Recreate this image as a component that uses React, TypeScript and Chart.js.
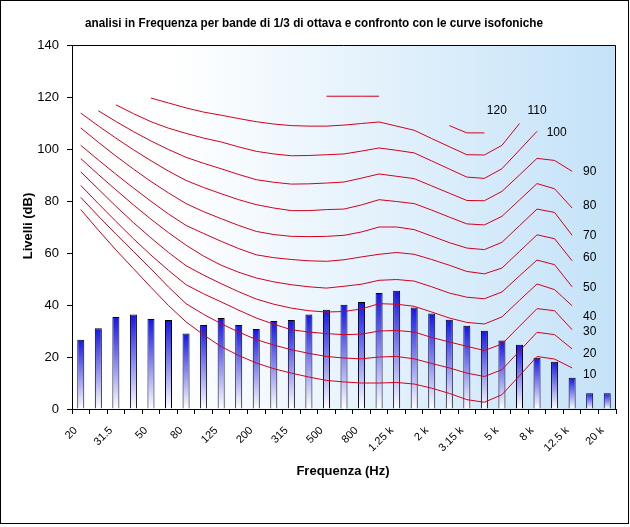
import React, { useEffect, useRef } from 'react';
import { Chart, registerables } from 'chart.js';

Chart.register(...registerables);

// Third-octave band centre frequencies (categories)
const freqs = ['20', '25', '31.5', '40', '50', '63', '80', '100', '125', '160', '200', '250', '315', '400', '500', '630', '800', '1 k', '1.25 k', '1.6 k', '2 k', '2.5 k', '3.15 k', '4 k', '5 k', '6.3 k', '8 k', '10 k', '12.5 k', '16 k', '20 k'];

// Measured levels (dB) per band
const levels = [26.6, 31.1, 35.4, 36.3, 34.6, 34.2, 29.0, 32.3, 35.0, 32.3, 30.8, 33.8, 34.2, 36.3, 38.2, 40.1, 41.2, 44.6, 45.5, 39.0, 36.7, 34.3, 32.0, 30.1, 26.3, 24.7, 19.7, 18.2, 12.0, 6.1, 6.1];

// Equal-loudness (isophonic) curves, dB per band
const curve10 = [76.7, 68.8, 61.2, 54.0, 46.8, 39.8, 33.5, 28.5, 24.0, 20.6, 17.7, 15.5, 13.8, 12.3, 11.0, 10.4, 10.0, 10.0, 10.2, 9.6, 8.0, 6.0, 3.6, 2.6, 5.5, 12.8, 20.2, 19.2, 15.8, null, null];
const curve20 = [81.4, 74.2, 67.3, 60.6, 53.9, 46.9, 40.5, 36.4, 32.8, 29.6, 26.7, 24.6, 22.8, 21.4, 20.2, 19.6, 19.3, 20.0, 20.2, 19.3, 17.5, 15.8, 13.8, 12.5, 15.1, 22.3, 29.5, 28.6, 23.1, null, null];
const curve30 = [86.0, 79.0, 72.2, 65.5, 59.2, 53.3, 47.8, 44.3, 41.2, 38.0, 35.0, 32.6, 30.5, 29.6, 29.0, 28.6, 28.8, 30.0, 30.2, 29.6, 27.5, 25.8, 24.1, 22.5, 25.0, 31.8, 38.6, 37.8, 30.5, null, null];
const curve40 = [91.2, 84.6, 78.0, 71.7, 65.8, 60.2, 55.1, 51.5, 48.2, 45.1, 42.3, 40.3, 38.8, 37.8, 37.3, 37.5, 38.5, 40.5, 40.3, 39.5, 37.3, 35.0, 33.3, 32.7, 35.4, 41.8, 48.1, 45.9, 39.7, null, null];
const curve50 = [96.3, 90.2, 84.3, 78.5, 73.0, 67.8, 63.0, 58.8, 55.3, 52.6, 50.4, 48.9, 47.8, 47.0, 46.5, 47.2, 48.0, 49.5, 49.8, 49.2, 47.0, 44.6, 43.0, 42.4, 45.0, 51.2, 57.3, 55.5, 47.0, null, null];
const curve60 = [101.4, 95.8, 90.3, 85.0, 79.9, 75.0, 70.6, 67.5, 64.5, 61.7, 59.3, 58.2, 57.5, 57.0, 56.8, 57.4, 58.5, 59.5, 60.2, 59.5, 57.5, 55.3, 52.9, 52.0, 54.2, 60.6, 67.0, 65.5, 57.0, null, null];
const curve70 = [108.1, 102.6, 97.3, 92.3, 87.5, 83.1, 79.0, 75.9, 73.2, 70.6, 68.3, 67.1, 66.4, 66.3, 66.4, 66.8, 68.1, 70.0, 70.0, 69.0, 66.5, 64.0, 61.9, 61.3, 64.1, 70.5, 76.9, 75.6, 66.8, null, null];
const curve80 = [113.8, 108.9, 104.2, 99.7, 95.5, 91.5, 87.9, 85.2, 82.8, 80.5, 78.6, 77.3, 76.3, 76.3, 76.7, 76.9, 78.5, 80.5, 79.8, 79.0, 76.5, 73.8, 71.2, 70.8, 74.1, 80.4, 86.7, 84.7, 77.3, null, null];
const curve90 = [null, 114.7, 110.6, 106.7, 103.1, 99.8, 96.8, 94.5, 92.4, 90.2, 88.2, 87.2, 86.5, 86.6, 86.9, 87.3, 88.8, 90.4, 89.5, 88.6, 85.8, 83.0, 80.2, 80.1, 83.7, 90.0, 96.4, 95.6, 91.4, null, null];
const curve100 = [null, null, 117.0, 113.6, 110.5, 108.0, 106.0, 104.2, 102.7, 100.8, 99.1, 98.1, 97.4, 97.5, 97.8, 98.1, 99.2, 100.4, 99.5, 98.5, 95.4, 92.3, 89.2, 88.7, 92.4, 99.6, 106.8, null, null, null, null];
const curve110 = [null, null, null, null, 119.6, 117.7, 115.8, 114.2, 113.0, 111.7, 110.5, 109.6, 109.0, 108.8, 108.8, 109.2, 109.8, 110.4, 108.8, 107.2, 104.0, 100.9, 97.8, 97.7, 101.4, 109.8, null, null, null, null, null];
const curve120 = [null, null, null, null, null, null, null, null, null, null, null, null, null, null, 120.3, 120.3, 120.3, 120.3, null, null, null, 109.0, 106.2, 106.2, null, null, null, null, null, null, null];

const curves = [curve10, curve20, curve30, curve40, curve50, curve60, curve70, curve80, curve90, curve100, curve110, curve120];
const curveNames = ['10', '20', '30', '40', '50', '60', '70', '80', '90', '100', '110', '120'];
// label anchors (category index, dB)
const labelX = [29, 29, 29, 29, 29, 29, 29, 29, 29, 27.12, 26.0, 23.71];
const labelY = [13.2, 21.3, 29.8, 35.6, 46.5, 58.1, 66.8, 78.2, 91.4, 106.4, 114.6, 114.6];

const yTicks = [0, 20, 40, 60, 80, 100, 120, 140];

const FONT = '"Liberation Sans", Arial, sans-serif';
const CURVE_COLOR = '#d4001e';

const decorPlugin = {
  id: 'decor',
  beforeDraw(chart: any) {
    const { ctx, chartArea: a, width, height } = chart;
    ctx.save();
    ctx.fillStyle = '#ffffff';
    ctx.fillRect(0, 0, width, height);
    const g = ctx.createLinearGradient(a.left, 0, a.right, 0);
    g.addColorStop(0, '#ffffff');
    g.addColorStop(0.18, '#ffffff');
    g.addColorStop(1, '#c4e2f8');
    ctx.fillStyle = g;
    ctx.fillRect(a.left, a.top, a.right - a.left, a.bottom - a.top);
    ctx.restore();
  },
  afterDraw(chart: any) {
    const { ctx, chartArea: a, scales } = chart;
    ctx.save();
    // plot frame
    ctx.strokeStyle = '#000';
    ctx.lineWidth = 1;
    ctx.beginPath();
    ctx.moveTo(a.left, a.top + 0.5);
    ctx.lineTo(a.right - 0.5, a.top + 0.5);
    ctx.lineTo(a.right - 0.5, a.bottom);
    ctx.stroke();
    // outer frame
    ctx.strokeRect(0.5, 0.5, 628, 523);

    // curve labels
    ctx.fillStyle = '#000';
    ctx.font = '12px ' + FONT;
    ctx.textAlign = 'center';
    ctx.textBaseline = 'middle';
    for (let i = 0; i < curveNames.length; i++) {
      const x = scales.x.getPixelForValue(labelX[i]);
      const y = scales.y.getPixelForValue(labelY[i]);
      ctx.fillText(curveNames[i], x, y);
    }

    // main title (condensed bold)
    const title = 'analisi in Frequenza per bande di 1/3 di ottava e confronto con le curve isofoniche';
    ctx.font = 'bold 12px ' + FONT;
    const w = ctx.measureText(title).width;
    const target = 458;
    ctx.save();
    ctx.translate(314, 24);
    ctx.scale(target / w, 1);
    ctx.fillText(title, 0, 0);
    ctx.restore();

    // axis titles
    ctx.font = 'bold 13px ' + FONT;
    ctx.fillText('Frequenza (Hz)', 343, 471);
    ctx.save();
    ctx.translate(28, 226);
    ctx.rotate(-Math.PI / 2);
    ctx.fillText('Livelli (dB)', 0, 0);
    ctx.restore();
    ctx.restore();
  },
};

export default function App() {
  const ref = useRef<HTMLCanvasElement>(null);
  useEffect(() => {
    const canvas = ref.current;
    if (!canvas) return;
    const barDataset: any = {
      type: 'bar',
      data: levels,
      order: 2,
      barPercentage: 0.4,
      categoryPercentage: 1,
      borderColor: '#000',
      borderWidth: 1,
      backgroundColor: (c: any) => {
        const chart = c.chart;
        const a = chart.chartArea;
        if (!a || c.parsed == null) return '#3030f0';
        const top = chart.scales.y.getPixelForValue(c.parsed.y);
        const g = chart.ctx.createLinearGradient(0, top, 0, a.bottom);
        g.addColorStop(0, '#1414ee');
        g.addColorStop(1, '#ffffff');
        return g;
      },
    };
    const lineDatasets: any[] = curves.map((d, i) => ({
      type: 'line',
      data: d,
      order: 1,
      borderColor: CURVE_COLOR,
      borderWidth: 1,
      pointRadius: 0,
      fill: false,
      tension: 0,
      spanGaps: i !== 11,
    }));
    const chart = new Chart(canvas, {
      type: 'bar',
      data: { labels: freqs, datasets: [barDataset, ...lineDatasets] },
      options: {
        responsive: false,
        animation: false,
        devicePixelRatio: 1,
        layout: { padding: { top: 45, right: 14, left: 0, bottom: 0 } },
        plugins: {
          legend: { display: false },
          title: { display: false },
          tooltip: { enabled: false },
        },
        scales: {
          x: {
            offset: true,
            grid: { offset: true, drawOnChartArea: false, drawTicks: true, tickLength: 5, color: '#000' },
            border: { color: '#000', width: 1 },
            ticks: {
              autoSkip: false,
              maxRotation: 45,
              minRotation: 45,
              padding: 10,
              labelOffset: -5,
              color: '#000',
              font: { family: FONT, size: 11 },
              callback: (_v: any, i: number) => (i % 2 === 0 ? freqs[i] : ''),
            },
            afterFit: (s: any) => { s.height = 118; },
          },
          y: {
            min: 0,
            max: 140,
            afterBuildTicks: (s: any) => { s.ticks = yTicks.map((v) => ({ value: v })); },
            grid: { drawOnChartArea: false, drawTicks: true, tickLength: 5, color: '#000' },
            border: { color: '#000', width: 1 },
            ticks: { padding: 8, color: '#000', font: { family: FONT, size: 13 } },
            afterFit: (s: any) => { s.width = 72; },
          },
        },
      },
      plugins: [decorPlugin],
    } as any);
    return () => chart.destroy();
  }, []);
  return (
    <div style={{ position: 'fixed', left: 0, top: 0, width: 630, height: 527, background: '#fff' }}>
      <canvas ref={ref} width={630} height={527} style={{ display: 'block', width: 630, height: 527 }} />
    </div>
  );
}
